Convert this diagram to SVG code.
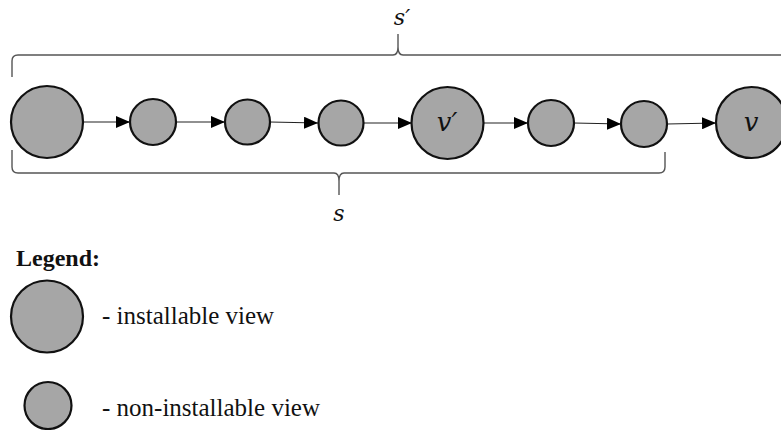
<svg xmlns="http://www.w3.org/2000/svg" width="781" height="430" viewBox="0 0 781 430">
<defs>
<style>
.big{fill:#a6a6a6;stroke:#111;stroke-width:2.2}
.small{fill:#a6a6a6;stroke:#111;stroke-width:2.2}
.edge{stroke:#222;stroke-width:1.2;fill:none;marker-end:url(#ah)}
.brace{stroke:#555;stroke-width:1.4;fill:none}
.math{font-family:"DejaVu Serif","Liberation Serif",serif;font-style:italic;fill:#111;text-anchor:middle}
.leg{font-family:"Liberation Serif","Times New Roman",serif;fill:#111}
</style>
<marker id="ah" markerWidth="14" markerHeight="12" refX="14" refY="6" orient="auto" markerUnits="userSpaceOnUse">
<path d="M0,0 L14,6 L0,12 Z" fill="#000"/>
</marker>
</defs>
<rect width="781" height="430" fill="#fff"/>
<g id="braces">
<path class="brace" d="M12,77 L12,61 Q12,55 18,55 L393,55 Q398,55 398,47 L398,34 L398,47 Q398,55 403,55 L781,55"/>
<path class="brace" d="M12,150 L12,167 Q12,173 18,173 L334,173 Q339,173 339,181 L339,195 L339,181 Q339,173 344,173 L659,173 Q665,173 665,167 L665,152"/>
<text class="math" x="402" y="25" font-size="22">s′</text>
<text class="math" x="339" y="221" font-size="22">s</text>
</g>
<g id="connectors">
<line class="edge" x1="83" y1="122" x2="130" y2="122"/>
<line class="edge" x1="176" y1="122" x2="225" y2="122"/>
<line class="edge" x1="270" y1="122" x2="318" y2="123"/>
<line class="edge" x1="363" y1="123" x2="412" y2="123"/>
<line class="edge" x1="483" y1="123" x2="528" y2="123"/>
<line class="edge" x1="574" y1="123" x2="621" y2="124"/>
<line class="edge" x1="667" y1="124" x2="716" y2="123"/>
</g>
<g id="n1"><circle class="big" cx="47" cy="122" r="36"/></g>
<g id="n2"><circle class="small" cx="153" cy="122" r="23"/></g>
<g id="n3"><circle class="small" cx="247.5" cy="122" r="22.5"/></g>
<g id="n4"><circle class="small" cx="341" cy="123" r="22.5"/></g>
<g id="n5"><circle class="big" cx="447.5" cy="123" r="36"/><text class="math" x="447" y="131" font-size="26">v′</text></g>
<g id="n6"><circle class="small" cx="551" cy="123" r="23"/></g>
<g id="n7"><circle class="small" cx="644" cy="124" r="23"/></g>
<g id="n8"><circle class="big" cx="751.5" cy="122.5" r="35.5"/><text class="math" x="751" y="131" font-size="26">v</text></g>
<g id="legend">
<text class="leg" x="16" y="266" font-size="24" font-weight="bold">Legend:</text>
<circle class="big" cx="47" cy="316.5" r="36"/>
<text class="leg" x="102" y="324" font-size="25">- installable view</text>
<circle class="small" cx="48" cy="405.5" r="23.5"/>
<text class="leg" x="102" y="416" font-size="25">- non-installable view</text>
</g>
</svg>
